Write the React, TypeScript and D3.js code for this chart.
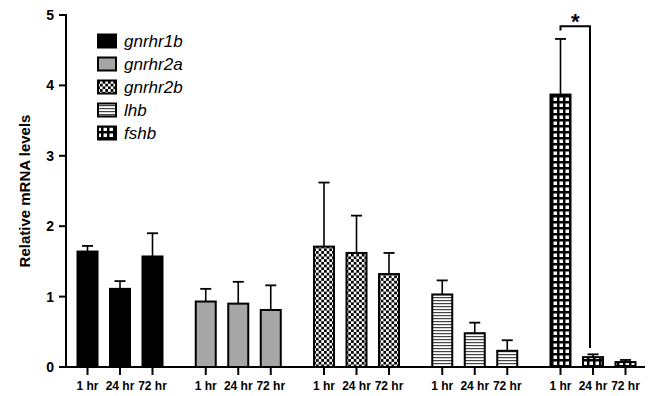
import React from "react";
import * as d3 from "d3";

const genes = ["gnrhr1b", "gnrhr2a", "gnrhr2b", "lhb", "fshb"];
const times = ["1 hr", "24 hr", "72 hr"];
const means: number[][] = [
  [1.64, 1.11, 1.57],
  [0.93, 0.9, 0.81],
  [1.71, 1.62, 1.32],
  [1.03, 0.48, 0.23],
  [3.87, 0.14, 0.07],
];
const errTops: number[][] = [
  [1.72, 1.22, 1.9],
  [1.11, 1.21, 1.16],
  [2.62, 2.15, 1.62],
  [1.23, 0.63, 0.38],
  [4.66, 0.18, 0.1],
];
const yTicks = [0, 1, 2, 3, 4, 5];
const fills = ["#000", "#a6a6a6", "url(#pChecker)", "url(#pHLines)", "url(#pGrid)"];
const sigBracket = { y: 4.84, leftEnd: 4.78, rightEnd: 0.27 };

const W = 650;
const H = 396;
const FONT = "'Liberation Sans', Arial, Helvetica, sans-serif";

export default function App() {
  const y = d3.scaleLinear().domain([0, 5]).range([367, 15]);
  const xg = d3.scalePoint<string>().domain(genes).range([120, 593]);
  const xi = d3.scalePoint<string>().domain(times).range([-32.5, 32.5]);
  const barW = 20;
  const axisX = 66;
  const bx = (g: string, t: string) => (xg(g) as number) + (xi(t) as number);

  return (
    <svg width={W} height={H} style={{ position: "absolute", left: 0, top: 0, background: "#fff" }}>
      <defs>
        <pattern id="pChecker" width={5.4} height={5.4} patternUnits="userSpaceOnUse">
          <rect width={5.4} height={5.4} fill="#fff" />
          <rect x={0} y={0} width={2.7} height={2.7} fill="#000" />
          <rect x={2.7} y={2.7} width={2.7} height={2.7} fill="#000" />
        </pattern>
        <pattern id="pHLines" width={4} height={3} patternUnits="userSpaceOnUse">
          <rect width={4} height={3} fill="#fff" />
          <rect x={0} y={0} width={4} height={1.2} fill="#444" />
        </pattern>
        <pattern id="pGrid" width={6} height={6} patternUnits="userSpaceOnUse">
          <rect width={6} height={6} fill="#000" />
          <rect x={1.5} y={1.5} width={3.5} height={3.5} fill="#fff" />
        </pattern>
      </defs>

      {/* bars */}
      {genes.map((g, gi) =>
        times.map((t, ti) => {
          const cx = bx(g, t);
          const top = y(means[gi][ti]);
          const et = y(errTops[gi][ti]);
          return (
            <g key={g + t}>
              <line x1={cx} x2={cx} y1={top} y2={et} stroke="#000" strokeWidth={1.6} />
              <line x1={cx - 5.5} x2={cx + 5.5} y1={et} y2={et} stroke="#000" strokeWidth={1.8} />
              <rect
                x={cx - barW / 2}
                y={top}
                width={barW}
                height={y(0) - top}
                fill={fills[gi]}
                stroke="#000"
                strokeWidth={2}
              />
            </g>
          );
        })
      )}

      {/* y axis */}
      <line x1={axisX} x2={axisX} y1={y(5) - 1} y2={y(0) + 1} stroke="#000" strokeWidth={2} />
      {yTicks.map((v) => (
        <g key={v}>
          <line x1={axisX - 7} x2={axisX} y1={y(v)} y2={y(v)} stroke="#000" strokeWidth={2} />
          <text
            x={axisX - 12}
            y={y(v)}
            dy="0.36em"
            textAnchor="end"
            fontFamily={FONT}
            fontWeight="bold"
            fontSize={14}
          >
            {v}
          </text>
        </g>
      ))}
      <text
        transform={`translate(25,${191}) rotate(-90)`}
        textAnchor="middle"
        dy="0.35em"
        fontFamily={FONT}
        fontWeight="bold"
        fontSize={15}
      >
        Relative mRNA levels
      </text>

      {/* x axis */}
      <line x1={axisX - 1} x2={645} y1={y(0)} y2={y(0)} stroke="#000" strokeWidth={2} />
      {genes.map((g) =>
        times.map((t) => {
          const cx = bx(g, t);
          return (
            <g key={"xt" + g + t}>
              <line x1={cx} x2={cx} y1={y(0)} y2={y(0) + 8} stroke="#000" strokeWidth={2} />
              <text
                x={cx}
                y={390}
                textAnchor="middle"
                fontFamily={FONT}
                fontWeight="bold"
                fontSize={12}
              >
                {t}
              </text>
            </g>
          );
        })
      )}

      {/* significance bracket */}
      {(() => {
        const xl = bx("fshb", "1 hr");
        const xr = bx("fshb", "24 hr") - 3;
        return (
          <g>
            <path
              d={`M${xl},${y(sigBracket.leftEnd)} V${y(sigBracket.y)} H${xr} V${y(sigBracket.rightEnd)}`}
              fill="none"
              stroke="#000"
              strokeWidth={2}
            />
            <text
              x={(xl + xr) / 2}
              y={y(sigBracket.y) + 3}
              textAnchor="middle"
              fontFamily={FONT}
              fontWeight="bold"
              fontSize={22}
            >
              *
            </text>
          </g>
        );
      })()}

      {/* legend */}
      {genes.map((g, i) => {
        const cy = 41 + i * 23;
        return (
          <g key={"lg" + g}>
            <rect x={98} y={cy - 6.5} width={18} height={13} fill={fills[i]} stroke="#000" strokeWidth={2} />
            <text
              x={124}
              y={cy}
              dy="0.35em"
              fontFamily={FONT}
              fontStyle="italic"
              fontSize={17}
            >
              {g}
            </text>
          </g>
        );
      })}
    </svg>
  );
}
